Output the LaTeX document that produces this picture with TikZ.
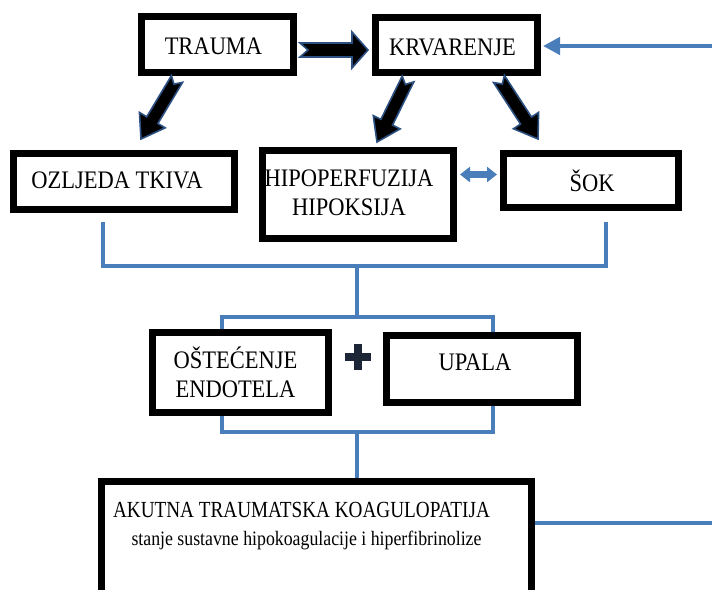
\documentclass[tikz,border=0pt]{standalone}
\usepackage{fontspec}
\setmainfont{Liberation Serif}
\usetikzlibrary{arrows.meta,backgrounds,calc}
\definecolor{wblue}{RGB}{74,126,187}
\definecolor{navy}{RGB}{28,38,55}
\definecolor{edgeblue}{RGB}{45,80,130}
\newcommand\vst[2]{\scalebox{1}[#1]{#2}}
% notched block arrow: #1 start, #2 end, #3 half shaft, #4 half head, #5 head length, #6 notch depth
\newcommand\blockarr[6]{%
  \coordinate (ba-c) at ($(#2)!#5!(#1)$);
  \draw[barrow] ($(#1)!#3!90:(#2)$) -- ($(ba-c)!#3!90:(#2)$) -- ($(ba-c)!#4!90:(#2)$)
    -- (#2) -- ($(ba-c)!#4!-90:(#2)$) -- ($(ba-c)!#3!-90:(#2)$) -- ($(#1)!#3!-90:(#2)$)
    -- ($(#1)!#6!(#2)$) -- cycle;}
\begin{document}
\begin{tikzpicture}[x=1pt,y=-1pt,
  box/.style={draw=black, line width=7pt, fill=white, inner sep=0pt, outer sep=0pt},
  lbl/.style={font=\fontsize{22.5}{28.5}\selectfont, align=center, inner sep=0pt, text=black},
  barrow/.style={fill=black, draw=edgeblue, line width=1.6pt, line join=miter},
  bl/.style={wblue, line width=4.5pt},
]
\useasboundingbox (0,0) rectangle (712,589);
\clip (0,0) rectangle (712,589);

% boxes
\node[box, minimum width=152pt, minimum height=56pt,
  label={[lbl, xshift=-4pt, yshift=-2pt]center:\vst{1.12}{TRAUMA}}] (trauma) at (217.5,44.5) {};
\node[box, minimum width=162pt, minimum height=55pt,
  label={[lbl, xshift=-4pt, yshift=-2.5pt]center:\vst{1.12}{KRVARENJE}}] (krv) at (456.5,45) {};
\node[box, minimum width=221pt, minimum height=56pt,
  label={[lbl, xshift=-7pt, yshift=1.5pt]center:\vst{1.12}{OZLJEDA TKIVA}}] (ozl) at (124,181.5) {};
\node[box, minimum width=191pt, minimum height=88pt,
  label={[lbl, xshift=-9pt, yshift=1.5pt]center:\vst{1.12}{HIPOPERFUZIJA}\\\vst{1.12}{HIPOKSIJA}}] (hipo) at (358,194.5) {};
\node[box, minimum width=175pt, minimum height=54pt,
  label={[lbl, xshift=1pt, yshift=0pt]center:\vst{1.12}{ŠOK}}] (sok) at (591,180.5) {};
\node[box, minimum width=176pt, minimum height=80pt,
  label={[lbl, xshift=-5pt]center:\vst{1.12}{OŠTEĆENJE}\\\vst{1.12}{ENDOTELA}}] (ost) at (240.5,372.5) {};
\node[box, minimum width=191pt, minimum height=67pt,
  label={[lbl, xshift=-7pt, yshift=7pt]center:\vst{1.12}{UPALA}}] (upala) at (482,369) {};
\node[box, minimum width=430pt, minimum height=160pt] (atk) at (316.5,561.5) {};
\node[lbl, font=\fontsize{19.2}{23}\selectfont] (atk1) at (301.5,510) {\vst{1.2}{AKUTNA TRAUMATSKA KOAGULOPATIJA}};
\node[lbl, font=\fontsize{17.8}{22}\selectfont] (atk2) at (306.5,540) {\vst{1.15}{stanje sustavne hipokoagulacije i hiperfibrinolize}};

% plus sign
\node[inner sep=0pt, minimum size=26pt] (plus) at (358,357) {};
\draw[navy, line width=8pt] (plus.north) -- (plus.south) (plus.west) -- (plus.east);

% coordinates for connectors
\coordinate (oz1) at (103,222);
\coordinate (sk1) at (606,222);
\coordinate (j1) at (357,266);
\coordinate (j2) at (357,317);
\coordinate (br1) at (222,317);
\coordinate (br2) at (493,432);
\coordinate (j3) at (357,432);
\coordinate (rt1) at (712,46);
\coordinate (kin) at (543,46);
\coordinate (rt2) at (712,523);
\coordinate (dl) at (460,174.5);
\coordinate (dr) at (497,174.5);
\coordinate (h1) at (300,50);
\coordinate (h2) at (368,50);
\coordinate (d1a) at (177,79);
\coordinate (d1b) at (141,139);
\coordinate (d2a) at (408,79);
\coordinate (d2b) at (377,142);
\coordinate (d3a) at (499,79);
\coordinate (d3b) at (538,139);

\begin{scope}[on background layer]
  \draw[bl] (oz1) |- (j1) -| (sk1);
  \draw[bl] (j1) -- (j2);
  \draw[bl] (br1) rectangle (br2);
  \draw[bl] (j3) -- (j3 |- atk.north);
  \draw[bl] (rt2 -| atk.east) -- (rt2);
\end{scope}

% blue arrows
\draw[bl, -{Triangle[width=17pt,length=17pt]}] (rt1) -- (kin);
\draw[wblue, line width=7pt, {Triangle[width=15pt,length=10pt]}-{Triangle[width=15pt,length=10pt]}] (dl) -- (dr);

% black block arrows
\blockarr{h1}{h2}{7pt}{18pt}{16pt}{8pt}
\blockarr{d1a}{d1b}{6.5pt}{15pt}{22pt}{6pt}
\blockarr{d2a}{d2b}{6.5pt}{15pt}{22pt}{6pt}
\blockarr{d3a}{d3b}{6.5pt}{15pt}{22pt}{6pt}
\end{tikzpicture}
\end{document}
